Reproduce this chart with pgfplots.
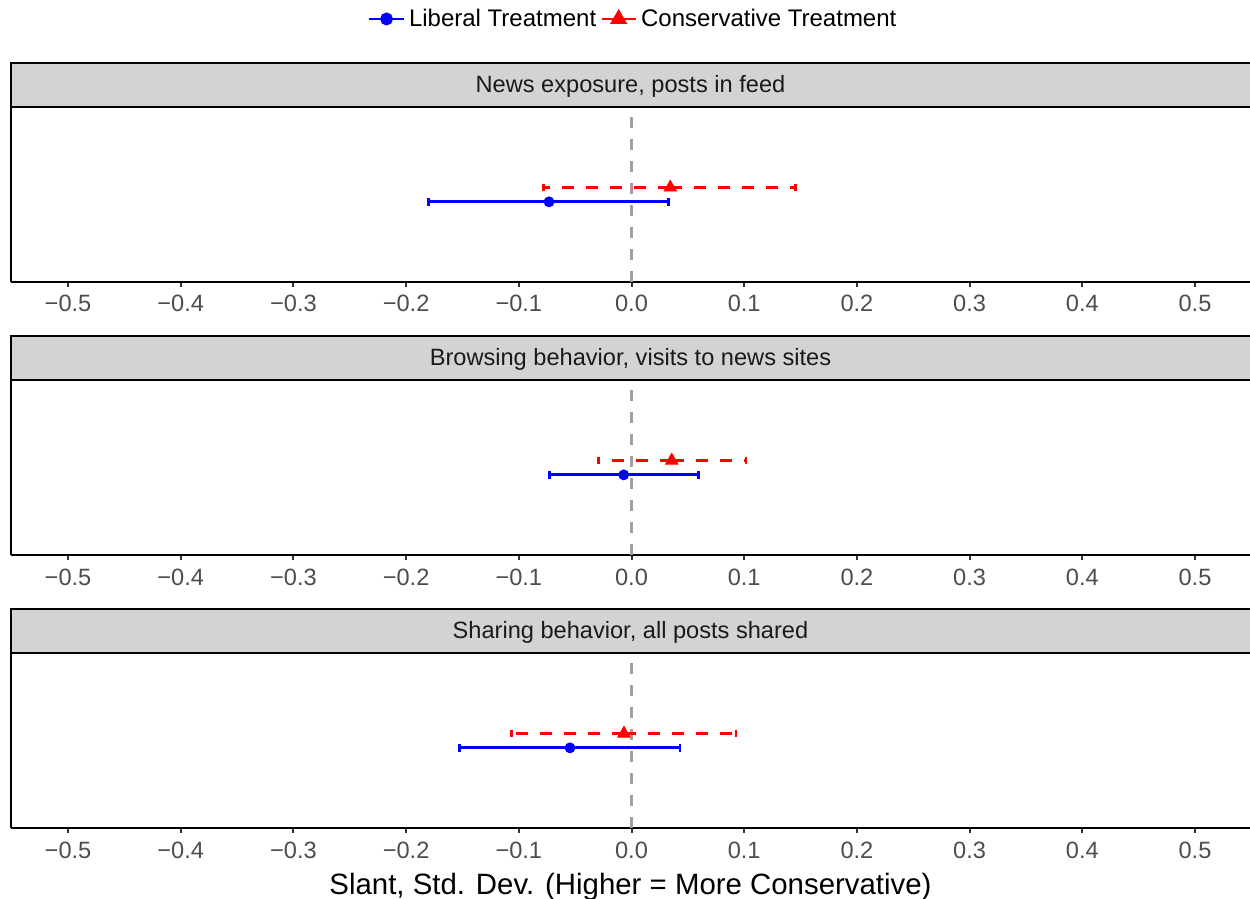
\documentclass[border=0pt]{standalone}
\usepackage{pgfplots}
\pgfplotsset{compat=1.18}
\usepackage{fontspec}
\setmainfont{Liberation Sans}
\definecolor{stripgray}{HTML}{D3D3D3}
\definecolor{ticktext}{HTML}{4D4D4D}
\definecolor{tickcol}{HTML}{333333}
\definecolor{zerogray}{HTML}{A0A0A0}
\definecolor{striptext}{HTML}{1A1A1A}
\pgfplotsset{
  panel/.style={
    at={(5.5pt,#1)}, anchor=south west,
    scale only axis, width=619.5pt, height=87.5pt,
    xmin=-0.5506, xmax=0.5488, ymin=0, ymax=1,
    axis lines*=left, axis line style={-, line width=1pt, black},
    ytick=\empty,
    xtick={-0.5,-0.4,-0.3,-0.2,-0.1,0,0.1,0.2,0.3,0.4,0.5},
    xticklabels={−0.5,−0.4,−0.3,−0.2,−0.1,0.0,0.1,0.2,0.3,0.4,0.5},
    tick align=outside, major tick length=2.5pt,
    tick style={line width=1pt, tickcol},
    xticklabel style={font=\fontsize{11.8}{12}\selectfont, text=ticktext, anchor=base, yshift=-12.5pt},
    clip=false,
  },
  lib/.style={only marks, mark=*, blue, mark size=2.5pt, forget plot,
    error bars/.cd, x dir=both, x explicit, error mark=|,
    error bar style={line width=1.5pt, blue, solid},
    error mark options={blue, solid, mark size=1.9pt, line width=1.4pt}},
  cons/.style={only marks, mark=triangle*, red, mark size=3.6pt, forget plot,
    error bars/.cd, x dir=both, x explicit, error mark=|,
    error bar style={line width=1.5pt, red, dash pattern=on 6pt off 6pt},
    error mark options={red, solid, mark size=1.9pt, line width=1.4pt}},
}
\newcommand{\zeroline}{\draw[zerogray, line width=1.2pt, dash pattern=on 5.5pt off 5.5pt] (axis cs:0,0) -- (axis cs:0,1);}
\newcommand{\strip}[1]{%
  \draw[fill=stripgray, draw=black, line width=1.4pt] (rel axis cs:0,1) rectangle ([xshift=10pt,yshift=22pt]rel axis cs:1,1);
  \node[anchor=base, font=\fontsize{11.8}{12}\selectfont, text=striptext] at ([yshift=7.15pt]rel axis cs:0.5,1) {#1};}
\begin{document}
\begin{tikzpicture}
\useasboundingbox (0,0) rectangle (625pt,-449.5pt);
% Panel 1
\begin{axis}[panel=-141pt,
  legend style={at={(0.503,1.503)}, anchor=center, draw=none, fill=none,
    legend columns=2, font=\fontsize{12}{14}\selectfont}]
\addlegendimage{blue, line width=1.4pt, mark=*, mark size=2.5pt}
\addlegendentry{Liberal Treatment}
\addlegendimage{red, line width=1.4pt, mark=triangle*, mark size=3.6pt}
\addlegendentry{Conservative Treatment}
\zeroline
\addplot[lib] coordinates {(-0.0732,0.458) += (0.1062,0) -= (0.1071,0)};
\addplot[cons] coordinates {(0.0344,0.540) += (0.1109,0) -= (0.1123,0)};
\strip{News exposure, posts in feed}
\end{axis}
% Panel 2
\begin{axis}[panel=-277.5pt]
\zeroline
\addplot[lib] coordinates {(-0.0069,0.458) += (0.0665,0) -= (0.0660,0)};
\addplot[cons] coordinates {(0.0357,0.540) += (0.0659,0) -= (0.0652,0)};
\strip{Browsing behavior, visits to news sites}
\end{axis}
% Panel 3
\begin{axis}[panel=-414pt]
\zeroline
\addplot[lib] coordinates {(-0.0546,0.458) += (0.0976,0) -= (0.0982,0)};
\addplot[cons] coordinates {(-0.0067,0.540) += (0.0994,0) -= (0.0996,0)};
\strip{Sharing behavior, all posts shared}
\node[anchor=base, font=\fontsize{14.7}{16}\selectfont] at ([yshift=-33pt]rel axis cs:0.5,0) {Slant, Std. Dev. (Higher = More Conservative)};
\end{axis}
\end{tikzpicture}
\end{document}
